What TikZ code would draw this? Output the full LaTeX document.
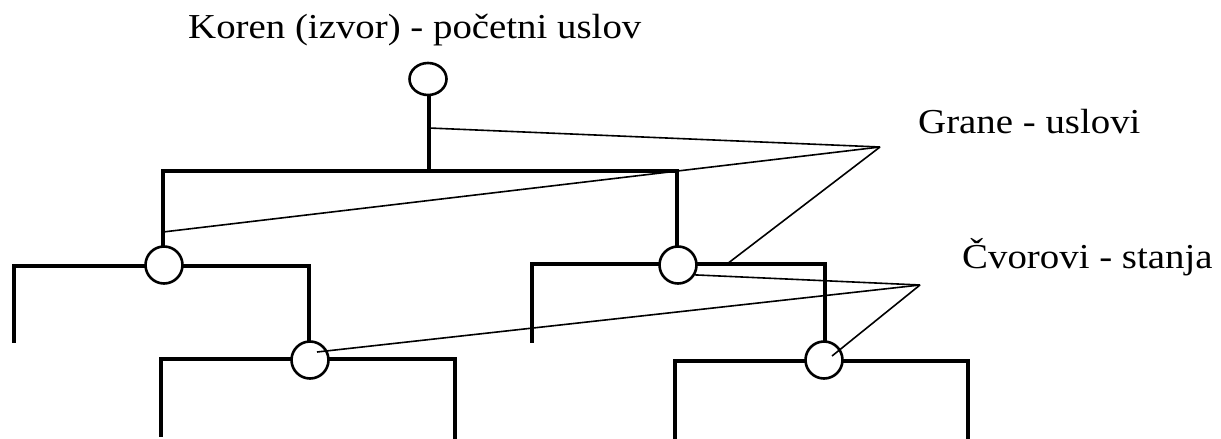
\documentclass[tikz,border=0pt]{standalone}
\usepackage{fontspec}
\setmainfont{Liberation Serif}
\usetikzlibrary{shapes.geometric}
\begin{document}
\begin{tikzpicture}[x=1pt,y=-1pt,
  state/.style={circle,draw,line width=2.6pt,minimum size=37pt,inner sep=0pt,fill=white},
  rootstate/.style={ellipse,draw,line width=2.6pt,minimum width=37pt,minimum height=32pt,inner sep=0pt,fill=white},
  tree/.style={line width=3.2pt,line cap=rect},
  pointer/.style={line width=1.6pt},
  lbl/.style={anchor=base west,inner sep=0pt,font=\fontsize{35pt}{40pt}\selectfont,xscale=1.11}]
\useasboundingbox (0,0) rectangle (1221,439);
% labels
\node[lbl] (koren) at (188,38) {Koren (izvor) - početni uslov};
\node[lbl] (grane) at (918,133) {Grane - uslovi};
\node[lbl] (cvor) at (962,268) {Čvorovi - stanja};
% coordinates of junctions
\coordinate (j0) at (429,171);
\coordinate (jl) at (163,171);
\coordinate (jr) at (677,171);
\coordinate (G) at (880,147);
\coordinate (C) at (920,285);
% tree lines (drawn first, states on top)
\draw[tree] (429,90) -- (j0);
\draw[tree] (jl) -- (jr);
\draw[tree] (jl) -- (163,250);
\draw[tree] (jr) -- (677,250);
% level 2 left
\draw[tree] (14,341) -- (14,266) -- (164,266);
\draw[tree] (164,266) -- (309,266) -- (309,345);
% level 2 right
\draw[tree] (532,341) -- (532,264) -- (678,264);
\draw[tree] (678,264) -- (825,264) -- (825,345);
% level 3 left
\draw[tree] (161,435) -- (161,359) -- (310,359);
\draw[tree] (310,359) -- (455,359) -- (455,437);
% level 3 right
\draw[tree] (675,437) -- (675,361) -- (824,361);
\draw[tree] (824,361) -- (968,361) -- (968,437);
% states
\node[rootstate] (r) at (428,79) {};
\node[state] (a) at (164,265) {};
\node[state] (b) at (678,265) {};
\node[state] (c) at (310,360) {};
\node[state] (d) at (824,360) {};
% pointer ends
\coordinate (pr) at (429,128);
\coordinate (pa) at (163,232);
\coordinate (pb) at (727,264);
\coordinate (pc) at (317,352);
\coordinate (pd) at (832,356);
% pointers to branches
\draw[pointer] (G) -- (pr);
\draw[pointer] (G) -- (pa);
\draw[pointer] (G) -- (pb);
% pointers to states
\draw[pointer] (C) -- (pc);
\draw[pointer] (C) -- (b.-30);
\draw[pointer] (C) -- (pd);
\end{tikzpicture}
\end{document}
